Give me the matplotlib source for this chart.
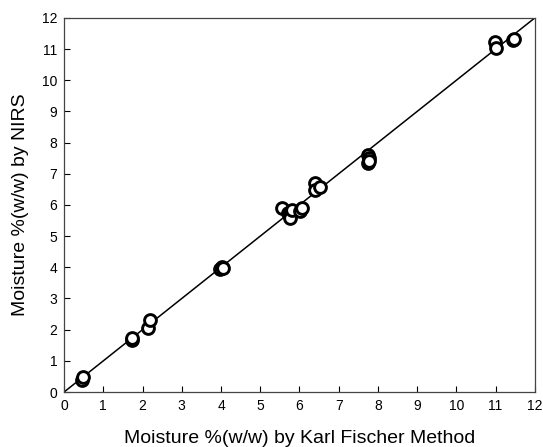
import matplotlib
matplotlib.use('Agg')
import matplotlib.pyplot as plt
import numpy as np

plt.rcParams['font.family'] = ['Liberation Sans', 'DejaVu Sans']

# Karl Fischer (x) vs NIRS (y) moisture values
kf = [0.45, 0.49, 1.72, 1.72, 2.15, 2.19, 3.98, 4.02, 4.06,
      5.55, 5.70, 5.76, 5.76, 5.82, 6.02, 6.06, 6.39, 6.39, 6.52,
      7.75, 7.78, 7.75, 7.78, 10.98, 11.02, 11.45, 11.47]
nirs = [0.40, 0.49, 1.67, 1.72, 2.04, 2.31, 3.95, 4.02, 3.97,
        5.89, 5.75, 5.73, 5.57, 5.85, 5.82, 5.89, 6.70, 6.48, 6.59,
        7.60, 7.52, 7.34, 7.42, 11.24, 11.03, 11.29, 11.33]
line_x = [0, 12]
line_y = [0, 12]
ticks = list(range(0, 13))

fig = plt.figure(figsize=(5.43, 4.47), dpi=100)
ax = fig.add_axes([0.118, 0.123, 0.867, 0.837])

ax.plot(line_x, line_y, color='black', linewidth=1.1, zorder=2)
ax.plot(kf, nirs, linestyle='none', marker='o', markersize=8.5,
        markerfacecolor='white', markeredgecolor='black',
        markeredgewidth=2.1, zorder=3)

ax.set_xlim(0, 12)
ax.set_ylim(0, 12)
ax.set_xticks(ticks)
ax.set_yticks(ticks)
ax.tick_params(direction='in', length=4, width=0.8, labelsize=10, pad=5)
for s in ax.spines.values():
    s.set_linewidth(0.9)
    s.set_color('#444444')

ax.set_xlabel('Moisture %(w/w) by Karl Fischer Method', fontsize=14, labelpad=12)
ax.set_ylabel('Moisture %(w/w) by NIRS', fontsize=14, labelpad=9)

fig.savefig('out.png', dpi=100)
